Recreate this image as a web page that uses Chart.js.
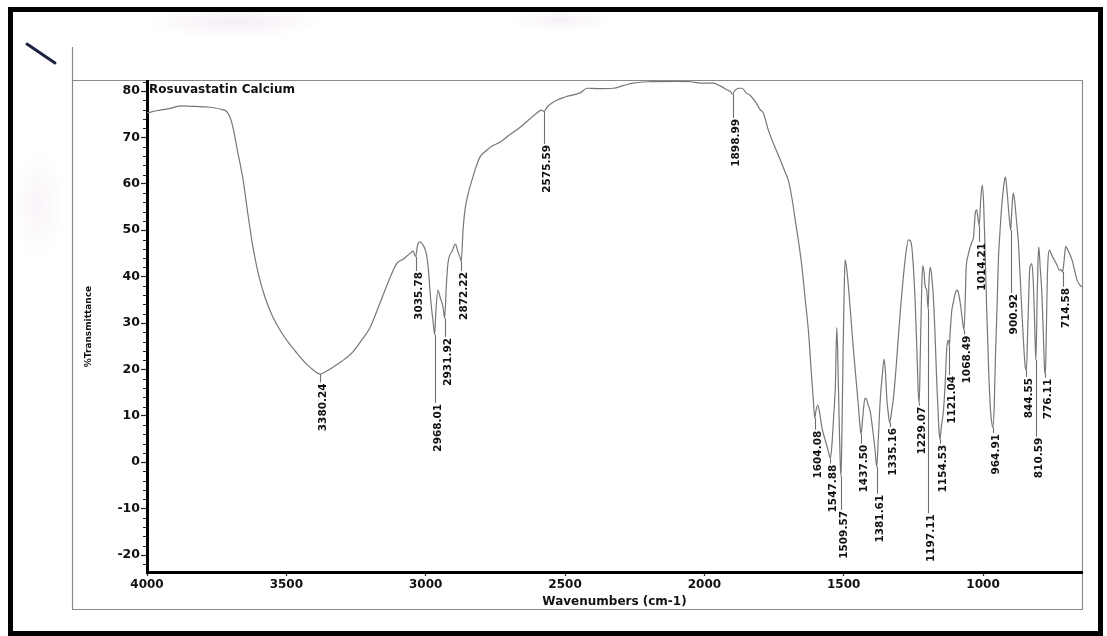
<!DOCTYPE html>
<html>
<head>
<meta charset="utf-8">
<title>Rosuvastatin Calcium - FTIR</title>
<script src="https://cdn.jsdelivr.net/npm/chart.js@4.4.1/dist/chart.umd.min.js"></script>
<style>
  html, body { margin: 0; padding: 0; background: #fff; }
  #wrap { position: relative; width: 1107px; height: 636px; }
</style>
</head>
<body>
<div id="wrap"><canvas id="irChart"></canvas></div>
<script>
/* texts */
var sampleName = "Rosuvastatin Calcium";
var xAxisTitle = "Wavenumbers (cm-1)";
var yAxisTitle = "%Transmittance";

/* axis ticks */
var xTicks = [4000, 3500, 3000, 2500, 2000, 1500, 1000];
var yTicks = [-20, -10, 0, 10, 20, 30, 40, 50, 60, 70, 80];

/* spectrum (cm-1 / %T) */
var wavenumbers = [
  4000, 3960, 3920, 3880, 3840, 3800, 3760, 3730, 3713, 3700, 3691, 3675, 3655, 3638, 3620, 3600,
  3577, 3550, 3523, 3490, 3462, 3430, 3400, 3380.24, 3360, 3332, 3300, 3261, 3230, 3200, 3164, 3130,
  3103, 3080, 3060, 3045, 3035.78, 3030, 3022, 3009, 2998, 2991, 2982, 2972, 2968.01, 2963, 2956, 2948,
  2938, 2931.92, 2926, 2920, 2905, 2893, 2885, 2877, 2872.22, 2866, 2859, 2847, 2834, 2820, 2805, 2780,
  2760, 2733, 2700, 2661, 2630, 2600, 2585, 2575.59, 2565, 2543, 2500, 2446, 2421, 2380, 2327, 2290,
  2256, 2200, 2100, 2050, 2015, 1969, 1940, 1918, 1905, 1898.99, 1890, 1875, 1865, 1850, 1836, 1815,
  1800, 1789, 1770, 1753, 1730, 1710, 1699, 1686, 1674, 1662, 1650, 1638, 1626, 1617, 1609, 1604.08,
  1600, 1593, 1586, 1579, 1570, 1561, 1553, 1547.88, 1542, 1536, 1530, 1525, 1521, 1516, 1512, 1509.57,
  1506, 1502, 1498, 1495, 1490, 1483, 1474, 1465, 1456, 1447, 1441, 1437.50, 1432, 1425, 1421, 1413,
  1405, 1396, 1387, 1381.61, 1376, 1369, 1362, 1355, 1350, 1345, 1340, 1335.16, 1328, 1321, 1312, 1303,
  1295, 1286, 1277, 1268, 1262, 1256, 1250, 1244, 1238, 1232, 1229.07, 1225, 1220, 1216, 1212, 1208,
  1202, 1197.11, 1194, 1190, 1185, 1178, 1172, 1166, 1160, 1157, 1154.53, 1150, 1142, 1136, 1130, 1124,
  1121.04, 1117, 1112, 1106, 1100, 1092, 1086, 1080, 1074, 1068.49, 1064, 1061, 1054, 1046, 1040, 1034,
  1028, 1023, 1018, 1014.21, 1008, 1003, 998, 993, 987, 980, 973, 968, 964.91, 960, 956, 950,
  945, 939, 933, 926, 920, 914, 908, 904, 900.92, 897, 892, 887, 880, 873, 867, 861,
  855, 849, 844.55, 840, 836, 833, 829, 825, 820, 815, 810.59, 806, 803, 800, 795, 789,
  784, 779, 776.11, 773, 770, 767, 762, 756, 750, 744, 735, 726, 720, 714.58, 710, 706,
  703, 698, 690, 681, 672, 663, 650, 645
];
var transmittance = [
  75.3, 75.8, 76.2, 76.8, 76.7, 76.6, 76.4, 76.0, 75.5, 74.0, 72.0, 67.0, 60.8, 53.5, 46.4, 40.5,
  35.6, 31.5, 28.5, 25.6, 23.5, 21.3, 19.7, 19.0, 19.5, 20.5, 21.8, 23.8, 26.3, 29.0, 34.3, 39.5,
  42.9, 43.8, 44.8, 45.5, 44.3, 46.5, 47.5, 46.8, 45.0, 42.0, 35.0, 29.5, 27.5, 33.0, 37.1, 35.5,
  33.5, 31.0, 38.0, 42.9, 45.5, 47.0, 45.5, 44.2, 43.3, 50.0, 54.4, 58.0, 60.8, 63.5, 65.8, 67.3,
  68.2, 69.0, 70.5, 72.2, 73.8, 75.3, 75.9, 75.6, 76.5, 77.6, 78.7, 79.6, 80.6, 80.5, 80.6, 81.2,
  81.7, 82.0, 82.1, 82.0, 81.7, 81.7, 81.0, 80.2, 79.8, 79.3, 80.2, 80.6, 80.6, 79.6, 79.1, 77.5,
  76.0, 75.3, 71.5, 68.8, 65.5, 62.5, 60.8, 57.0, 52.2, 47.5, 42.1, 35.0, 27.8, 20.0, 13.4, 9.5,
  11.0, 12.3, 10.5, 7.7, 5.5, 3.6, 1.8, 0.8, 4.0, 10.0, 16.3, 29.0, 22.0, 8.0, -1.0, -3.0,
  8.0, 25.0, 38.0, 43.6, 42.0, 37.8, 31.0, 24.2, 18.0, 11.9, 7.5, 6.0, 9.5, 13.5, 13.8, 12.5,
  11.0, 7.0, 2.3, -1.0, 5.0, 13.4, 18.5, 22.2, 19.0, 13.4, 10.5, 8.5, 11.0, 14.1, 20.5, 27.8,
  34.0, 40.0, 45.0, 47.9, 47.8, 46.5, 42.0, 35.0, 25.0, 14.5, 12.8, 24.0, 38.0, 42.4, 41.0, 38.0,
  37.0, 33.0, 39.0, 42.0, 40.5, 35.2, 27.0, 17.0, 9.0, 6.1, 5.0, 7.5, 11.2, 17.0, 24.9, 26.3,
  25.0, 29.0, 32.8, 34.6, 36.4, 37.1, 35.8, 33.5, 30.5, 28.5, 35.0, 41.4, 44.5, 46.4, 47.5, 48.6,
  53.7, 54.4, 52.5, 51.0, 57.0, 59.7, 56.0, 46.0, 33.0, 20.0, 11.0, 8.2, 7.5, 12.0, 22.0, 33.0,
  43.6, 50.0, 55.3, 59.5, 61.5, 58.5, 54.0, 51.5, 50.0, 54.0, 58.0, 56.5, 52.0, 47.2, 40.0, 32.8,
  26.0, 20.7, 19.8, 28.0, 36.0, 41.4, 42.5, 42.8, 39.0, 30.0, 22.0, 35.0, 43.0, 46.4, 42.0, 36.4,
  28.0, 19.8, 19.0, 28.0, 38.0, 43.6, 45.7, 45.0, 44.2, 43.6, 42.5, 41.4, 41.5, 41.0, 43.0, 45.5,
  46.5, 46.0, 45.0, 43.6, 41.5, 39.3, 38.0, 37.8
];

/* labelled peaks and the %T level where each label starts */
var peakWavenumbers = [
  3380.24, 3035.78, 2968.01, 2931.92, 2872.22, 2575.59, 1898.99, 1604.08, 1547.88, 1509.57,
  1437.50, 1381.61, 1335.16, 1229.07, 1197.11, 1154.53, 1121.04, 1068.49, 1014.21, 964.91,
  900.92, 844.55, 810.59, 776.11, 714.58
];
var peakLabelLevel = [
  17.2, 41.2, 12.8, 27.0, 41.2, 68.6, 74.2, 7.0, -0.3, -10.3,
  4.0, -6.8, 7.6, 12.2, -11.0, 4.0, 18.8, 27.5, 47.5, 6.3,
  36.5, 18.4, 5.5, 18.2, 37.8
];

var FONT = "'DejaVu Sans', 'Liberation Sans', Arial, sans-serif";

function spectrumPoints(){
    var pts = [];
    for(var i = 0; i < wavenumbers.length; i++){
        pts.push({ x: wavenumbers[i], y: transmittance[i] });
    }
    return pts;
}

// %T of the spectrum at a given wavenumber (linear between read points)
function valueAt(w){
    for(var i = 0; i < wavenumbers.length - 1; i++){
        var a = wavenumbers[i], b = wavenumbers[i + 1];
        if(w <= a && w >= b){
            var t = (a - w) / (a - b);
            return transmittance[i] + t * (transmittance[i + 1] - transmittance[i]);
        }
    }
    return transmittance[transmittance.length - 1];
}

function blob(ctx, x, y, rx, ry, alpha){
    ctx.save();
    ctx.translate(x, y);
    ctx.scale(rx / ry, 1);
    var g = ctx.createRadialGradient(0, 0, 0, 0, 0, ry);
    g.addColorStop(0, "rgba(214,175,212," + alpha + ")");
    g.addColorStop(1, "rgba(214,175,212,0)");
    ctx.fillStyle = g;
    ctx.beginPath();
    ctx.arc(0, 0, ry, 0, Math.PI * 2);
    ctx.fill();
    ctx.restore();
}

//- page: paper, frame, title, peak labels, minor ticks -
var pagePlugin = {
    id: "pagePlugin",
    beforeDraw: function(chart){
        var ctx = chart.ctx;
        var area = chart.chartArea;
        ctx.save();
        ctx.fillStyle = "#ffffff";
        ctx.fillRect(0, 0, chart.width, chart.height);

        // faint scan smudges
        blob(ctx, 235, 22, 90, 16, 0.22);
        blob(ctx, 560, 20, 50, 12, 0.18);
        blob(ctx, 38, 205, 26, 55, 0.14);

        // printed frame
        ctx.strokeStyle = "#8a8a8a";
        ctx.lineWidth = 1.2;
        ctx.beginPath();
        ctx.moveTo(72.5, 47);
        ctx.lineTo(72.5, 609.5);
        ctx.lineTo(area.right + 0.5, 609.5);
        ctx.lineTo(area.right + 0.5, 80.5);
        ctx.lineTo(72.5, 80.5);
        ctx.stroke();
        ctx.restore();
    },
    afterDraw: function(chart){
        var ctx = chart.ctx;
        var area = chart.chartArea;
        var xs = chart.scales.x;
        var ys = chart.scales.y;
        ctx.save();

        // minor ticks on the %T axis
        ctx.strokeStyle = "#222";
        ctx.lineWidth = 1;
        for(var v = -22; v <= 82; v += 2){
            if(v % 10 === 0){ continue; }
            var py = Math.round(ys.getPixelForValue(v)) + 0.5;
            ctx.beginPath();
            ctx.moveTo(area.left - 4, py);
            ctx.lineTo(area.left - 1, py);
            ctx.stroke();
        }

        // sample name
        ctx.fillStyle = "#111";
        ctx.font = "bold 12px " + FONT;
        ctx.textAlign = "left";
        ctx.textBaseline = "alphabetic";
        ctx.fillText(sampleName, area.left + 2, 93);

        // peak markers
        ctx.font = "bold 10.5px " + FONT;
        for(var i = 0; i < peakWavenumbers.length; i++){
            var w = peakWavenumbers[i];
            var px = Math.round(xs.getPixelForValue(w)) + 0.5;
            var yTop = ys.getPixelForValue(valueAt(w));
            var yEnd = ys.getPixelForValue(peakLabelLevel[i]);
            ctx.strokeStyle = "#6e6e6e";
            ctx.lineWidth = 1.1;
            ctx.beginPath();
            ctx.moveTo(px, yTop);
            ctx.lineTo(px, yEnd);
            ctx.stroke();

            ctx.save();
            ctx.translate(px - 2, yEnd + 1);
            ctx.rotate(-Math.PI / 2);
            ctx.textAlign = "right";
            ctx.textBaseline = "top";
            ctx.fillStyle = "#111";
            ctx.fillText(w.toFixed(2), 0, 0);
            ctx.restore();
        }

        // pen mark top-left
        ctx.strokeStyle = "#1d2440";
        ctx.lineWidth = 3;
        ctx.lineCap = "round";
        ctx.beginPath();
        ctx.moveTo(27, 44);
        ctx.lineTo(55, 63);
        ctx.stroke();

        // black outer border
        ctx.lineCap = "butt";
        ctx.strokeStyle = "#000";
        ctx.lineWidth = 5;
        ctx.strokeRect(10.5, 9.5, 1090, 624);
        ctx.restore();
    }
};

function dibujarEspectro(){
    var canvas = document.getElementById("irChart");

    new Chart(canvas.getContext("2d"), {
        type: "line",
        data: {
            datasets: [{
                label: sampleName,
                data: spectrumPoints(),
                borderColor: "#777777",
                borderWidth: 1.2,
                pointRadius: 0,
                fill: false,
                cubicInterpolationMode: "monotone"
            }]
        },
        options: {
            responsive: true,
            maintainAspectRatio: false,
            animation: false,
            events: [],
            layout: { padding: { left: 0, top: 81, right: 25, bottom: 0 } },
            plugins: {
                legend: { display: false },
                title: { display: false },
                tooltip: { enabled: false }
            },
            scales: {
                x: {
                    type: "linear",
                    reverse: true,
                    min: 645,
                    max: 4000,
                    afterFit: function(scale){ scale.height = 64; },
                    afterBuildTicks: function(scale){
                        scale.ticks = xTicks.map(function(v){ return { value: v }; });
                    },
                    ticks: {
                        color: "#111",
                        font: { family: FONT, weight: "bold", size: 12 },
                        padding: 2,
                        maxRotation: 0,
                        callback: function(v){ return String(v); }
                    },
                    grid: {
                        display: true,
                        drawOnChartArea: false,
                        drawTicks: true,
                        tickLength: 4,
                        tickColor: "#222",
                        tickWidth: 1.2
                    },
                    border: { display: true, color: "#000", width: 3 },
                    title: {
                        display: true,
                        text: xAxisTitle,
                        color: "#111",
                        font: { family: FONT, weight: "bold", size: 12 },
                        padding: { top: 0, bottom: 26.8 }
                    }
                },
                y: {
                    type: "linear",
                    min: -23.66,
                    max: 82.16,
                    afterFit: function(scale){ scale.width = 147; },
                    afterBuildTicks: function(scale){
                        scale.ticks = yTicks.map(function(v){ return { value: v }; });
                    },
                    ticks: {
                        color: "#111",
                        font: { family: FONT, weight: "bold", size: 12.5 },
                        padding: 1,
                        callback: function(v){ return String(v); }
                    },
                    grid: {
                        display: true,
                        drawOnChartArea: false,
                        drawTicks: true,
                        tickLength: 6,
                        tickColor: "#222",
                        tickWidth: 1.2
                    },
                    border: { display: true, color: "#000", width: 3 },
                    title: {
                        display: true,
                        text: yAxisTitle,
                        color: "#111",
                        font: { family: FONT, weight: "bold", size: 9 },
                        padding: { top: 83.6, bottom: 0 }
                    }
                }
            }
        },
        plugins: [pagePlugin]
    });
}

dibujarEspectro();
</script>
</body>
</html>
